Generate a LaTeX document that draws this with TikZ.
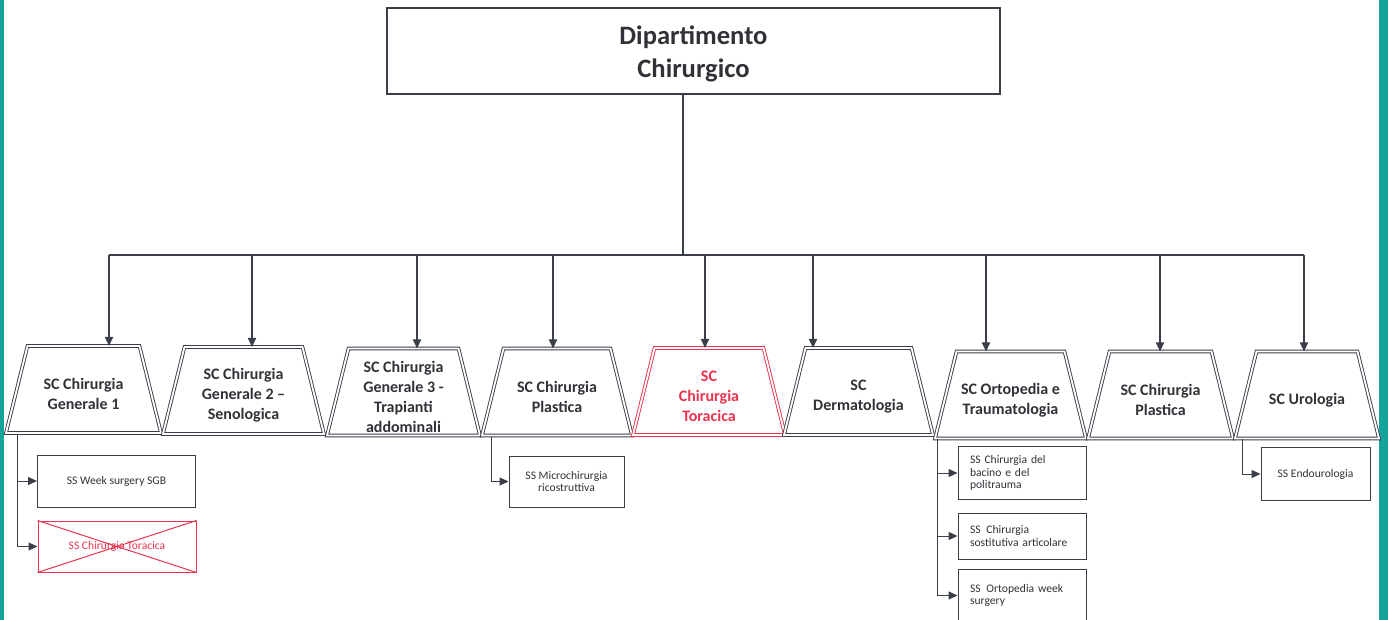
\documentclass[tikz,border=0pt]{standalone}
\usepackage{fontspec}
\setmainfont{Carlito}
\usetikzlibrary{arrows.meta}
\definecolor{linegray}{RGB}{58,62,72}
\definecolor{textgray}{RGB}{48,50,56}
\definecolor{redline}{RGB}{232,52,78}
\definecolor{tealbar}{RGB}{22,163,156}
\newcommand{\lowr}{\rule{0pt}{10.5pt}}
\newcommand{\sctrap}[2][linegray]{%
  \draw[trapline, draw=#1] ([xshift=10.75pt]#2.north west) -- ([xshift=-10.75pt]#2.north east)
    -- (#2.south east) -- (#2.south west) -- cycle;}
\tikzset{every picture/.style={line width=0.75pt}}
\tikzset{
scbox/.style={rectangle, minimum height=43.5pt, align=center, inner sep=0pt,
  outer sep=0pt, text=textgray, font=\bfseries\fontsize{8}{10}\selectfont},
trapline/.style={double=white, double distance=0.9pt, line width=0.45pt, line join=miter},
ssbox/.style={draw=linegray, line width=0.5pt, inner sep=0pt, text=textgray,
  font=\fontsize{5.8}{6.4}\selectfont, align=center},
ssleft/.style={ssbox, align=left, text width=52pt, inner xsep=6pt,
  minimum width=64pt},
bus/.style={draw=linegray, line width=1pt},
down/.style={bus, -{Triangle[length=4.5pt,width=4pt]}},
branch/.style={draw=linegray, line width=0.5pt, -{Triangle[length=4.5pt,width=4pt]}}
}

\begin{document}
\begin{tikzpicture}[x=0.5pt,y=-0.5pt]
\useasboundingbox (0,0) rectangle (1388,620);
%side bars
\fill[tealbar] (0,0) rectangle (4,620);
\fill[tealbar] (1379,0) rectangle (1388,620);

%Department
\node[draw=linegray, line width=0.6pt, minimum width=306.5pt, minimum height=43pt,
  align=center, text=textgray, font=\bfseries\fontsize{13.3}{16.5}\selectfont]
  (dept) at (693.5,51) {\rule{0pt}{12.5pt}Dipartimento\\Chirurgico};

%SC units
\node[scbox, minimum width=77.5pt] (t1) at (83.5,389.5) {\lowr SC Chirurgia\\Generale 1};
\node[scbox, minimum width=80.5pt] (t2) at (243.5,390.5) {\lowr SC Chirurgia\\Generale 2 --\\Senologica};
\node[scbox, minimum width=76.5pt] (t3) at (403.5,392) {\lowr SC Chirurgia\\Generale 3 -\\Trapianti\\addominali};
\node[scbox, minimum width=75pt] (t4) at (557,392) {\lowr SC Chirurgia\\Plastica};
\node[scbox, minimum width=76pt, text=redline] (t5) at (709,391.5) {\lowr SC\\Chirurgia\\Toracica};
\node[scbox, minimum width=74.5pt] (t6) at (858.5,391.5) {\lowr SC\\Dermatologia};
\node[scbox, minimum width=75.5pt] (t7) at (1010.5,395) {\lowr SC Ortopedia e\\Traumatologia};
\node[scbox, minimum width=72.5pt] (t8) at (1160.5,395) {\lowr SC Chirurgia\\Plastica};
\node[scbox, minimum width=72pt] (t9) at (1307,395) {\lowr SC Urologia};
\sctrap{t1}
\sctrap{t2}
\sctrap{t3}
\sctrap{t4}
\sctrap[redline]{t5}
\sctrap{t6}
\sctrap{t7}
\sctrap{t8}
\sctrap{t9}

%SS units
\node[ssbox, minimum width=79pt, minimum height=26pt] (ssa) at (116.5,481) {SS Week surgery SGB};
\node[ssbox, minimum width=79pt, minimum height=25.5pt, draw=redline, text=redline] (ssb) at (117,546.5) {SS Chirurgia Toracica};
\node[ssbox, minimum width=57.5pt, minimum height=25.5pt] (ssm) at (566.5,481.5) {SS Microchirurgia\\ricostruttiva};
\node[ssleft, minimum height=26pt] (ssc) at (1022,473) {SS Chirurgia del\\bacino e del\\politrauma};
\node[ssleft, minimum height=23pt] (ssd) at (1022,536) {SS\enspace Chirurgia\\sostitutiva articolare};
\node[ssleft, minimum height=26.5pt] (sse) at (1022,595.5) {SS\enspace Ortopedia week\\surgery};
\node[ssbox, minimum width=54.5pt, minimum height=26pt] (ssf) at (1315.5,474) {SS Endourologia};

%cross on the dropped unit
\draw[redline, line width=0.5pt] (ssb.north west) -- (ssb.south east) (ssb.north east) -- (ssb.south west);

%bus
\coordinate (hub) at (683,255);
\coordinate (b1) at (109,255);
\coordinate (b2) at (252,255);
\coordinate (b3) at (417,255);
\coordinate (b4) at (553,255);
\coordinate (b5) at (705,255);
\coordinate (b6) at (813,255);
\coordinate (b7) at (986,255);
\coordinate (b8) at (1160,255);
\coordinate (b9) at (1304,255);
\draw[bus] (dept.south -| hub) -- (hub);
\draw[bus] (b1) -- (b9);
\draw[down] (b1) -- (b1 |- t1.north);
\draw[down] (b2) -- (b2 |- t2.north);
\draw[down] (b3) -- (b3 |- t3.north);
\draw[down] (b4) -- (b4 |- t4.north);
\draw[down] (b5) -- (b5 |- t5.north);
\draw[down] (b6) -- (b6 |- t6.north);
\draw[down] (b7) -- (b7 |- t7.north);
\draw[down] (b8) -- (b8 |- t8.north);
\draw[down] (b9) -- (b9 |- t9.north);

%branches to SS units
\coordinate (j1) at (17,434);
\coordinate (j4) at (491,437);
\coordinate (j7) at (937,439);
\coordinate (j9) at (1242,439);
\draw[branch] (j1) |- (ssa.west);
\draw[branch] (j1) |- (ssb.west);
\draw[branch] (j4) |- (ssm.west);
\draw[branch] (j7) |- (ssc.west);
\draw[branch] (j7) |- (ssd.west);
\draw[branch] (j7) |- (sse.west);
\draw[branch] (j9) |- (ssf.west);

\end{tikzpicture}
\end{document}
